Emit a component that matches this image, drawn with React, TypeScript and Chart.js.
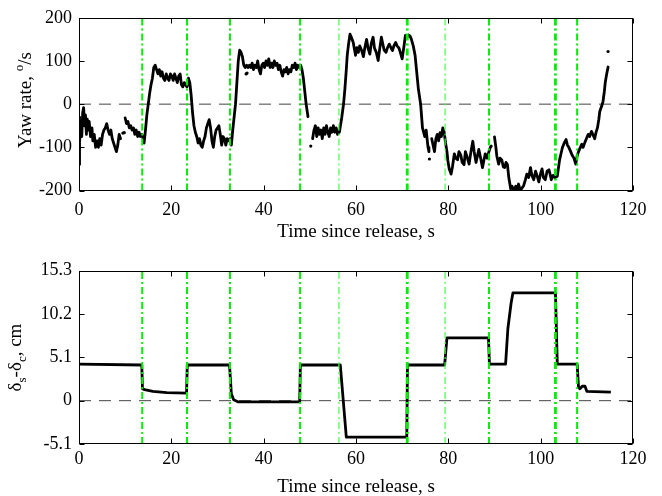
import React, { useEffect, useRef } from 'react';
import { Chart, registerables } from 'chart.js';
Chart.register(...registerables);

const FONT = '"Liberation Serif", "Times New Roman", Times, serif';

// ---------- data ----------
const xTicks = [0, 20, 40, 60, 80, 100, 120];
const yawTicks = [-200, -100, 0, 100, 200];
const deltaTicks = [-5.1, 0, 5.1, 10.2, 15.3];
const deltaTickLabels = ['-5.1', '0', '5.1', '10.2', '15.3'];

// event times (green dash-dot lines), s
const eventTimes = [13.7, 23.4, 32.7, 47.9, 56.3, 71.1, 79.3, 88.8, 103.2, 107.9];

// yaw rate trace (null = gap in record)
const yawTime = [
  0.0, 0.05, 0.1, 0.2, 0.4, 0.6, 0.8, 1.0, 1.2, 1.4,
  1.6, 1.8, 2.0, 2.2, 2.5, 2.8, 3.0, 3.3, 3.6, 3.9,
  4.2, 4.5, 4.8, 5.1, 5.4, 5.7, 6.0, 6.3, 6.6, 6.9,
  7.2, 7.5, 7.8, 8.1, 8.4, 8.7, 9.0, 9.4,
  10.0, 10.3, 10.6, 10.9, 11.2, 11.5, 11.8, 12.1, 12.4, 12.7,
  13.0, 13.3, 13.6, 13.9, 14.1, 14.4, 14.7, 15.0, 15.3, 15.6,
  15.9, 16.2, 16.5, 16.8, 17.1, 17.4, 17.7, 18.0, 18.3, 18.6,
  18.9, 19.2, 19.5, 19.8, 20.1, 20.4, 20.7, 21.0, 21.3, 21.6,
  21.9, 22.2, 22.5, 22.8, 23.1, 23.4, 23.7, 24.0, 24.3, 24.6,
  24.9, 25.2, 25.5, 25.8, 26.1, 26.4, 26.7, 27.0, 27.3, 27.6,
  27.9, 28.2, 28.5, 28.8, 29.1, 29.4, 29.7, 30.0, 30.3, 30.6,
  30.9, 31.2, 31.5, 31.8, 32.1, 32.4, 32.7, 33.0, 33.3, 33.6,
  33.9, 34.2, 34.5, 34.8, 35.1, 35.4, 35.7, 36.0, 36.3, 36.6,
  36.9, 37.2, 37.5, 37.8, 38.1, 38.4, 38.7, 39.0, 39.3, 39.6,
  39.9, 40.2, 40.5, 40.8, 41.1, 41.4, 41.7, 42.0, 42.3, 42.6,
  42.9, 43.2, 43.5, 43.8, 44.1, 44.4, 44.7, 45.0, 45.3, 45.6,
  45.9, 46.2, 46.5, 46.8, 47.1, 47.4, 47.7, 48.0, 48.3, 48.6,
  48.9, 49.2, 49.6, 50.0,
  50.6, 50.9, 51.2, 51.5, 51.8, 52.1, 52.4, 52.7, 53.0, 53.3,
  53.6, 53.9, 54.2, 54.5, 54.8, 55.1, 55.4, 55.7, 56.0, 56.4,
  56.9, 57.3, 57.6, 57.9, 58.1, 58.4, 58.7, 59.0, 59.4, 59.7,
  59.9, 60.2, 60.5, 60.8, 61.2, 61.6, 61.9, 62.3, 62.6, 63.0,
  63.3, 63.7, 64.0, 64.4, 64.8, 65.1, 65.5, 65.8, 66.1, 66.5,
  66.8, 67.2, 67.6, 67.9, 68.2, 68.6, 68.9, 69.3, 69.6, 70.0,
  70.4, 70.7, 71.0, 71.4, 71.7, 72.0, 72.4, 72.8, 73.1, 73.5,
  74.0, 74.4, 74.9, 75.2, 75.6, 75.8, 76.1,
  76.4, 76.7, 77.0, 77.3, 77.6, 77.9, 78.2, 78.5, 78.8, 79.1,
  79.4, 79.7, 79.9, 80.2, 80.6, 80.9, 81.3, 81.6, 82.0, 82.3,
  82.7, 83.0, 83.4, 83.7, 84.0, 84.5, 84.9, 85.3, 85.6, 86.0,
  86.3, 86.6, 87.0, 87.4, 87.7, 88.0, 88.4, 88.8, 89.1, 89.3,
  89.6,
  90.0, 90.3, 90.5, 90.9, 91.2, 91.6, 91.9, 92.2, 92.5, 92.8,
  93.1, 93.5, 93.8, 94.2, 94.6, 94.9, 95.2, 95.6, 95.9, 96.3,
  96.7, 97.0, 97.4, 97.8, 98.1, 98.5, 98.9, 99.2, 99.6, 100.0,
  100.3, 100.6, 101.0, 101.4, 101.8, 102.1, 102.3, 102.7, 103.1, 103.6,
  104.1, 104.4, 104.7, 105.1, 105.5, 105.8, 106.1, 106.5, 106.8, 107.2,
  107.6, 107.9, 108.2, 108.6, 108.9, 109.2, 109.6, 109.9, 110.3, 110.6,
  111.0, 111.3, 111.7, 112.0, 112.3, 112.6, 112.8, 113.2, 113.5, 113.8,
  114.0, 114.3, 114.6,
];
const yawRate = [
  -60, -140, -30, -90, -40, -75, -20, -8, -50, -25,
  -70, -35, -60, -40, -75, -55, -85, -70, -100, -85,
  -100, -80, -95, -70, -60, -55, -45, -60, -70, -60,
  -80, -90, -100, -110, -95, -70, -80, null,
  -32, -45, -40, -55, -50, -60, -55, -70, -60, -75,
  -65, -75, -70, -80, -90, -60, -25, 0, 25, 45,
  60, 85, 90, 80, 70, 80, 65, 75, 60, 55,
  70, 60, 55, 70, 65, 55, 70, 60, 50, 65,
  70, 45, 40, 50, 45, 40, 60, 50, 20, -20,
  -50, -65, -75, -90, -80, -95, -100, -85, -75, -55,
  -45, -36, -55, -85, -100, -75, -60, -55, -50, -70,
  -95, -75, -80, -95, -80, -85, -80, -95, -60, -30,
  0, 50, 100, 125, 120, 110, 90, 85, 90, 85,
  90, 85, 95, 80, 90, 85, 100, 80, 70, 90,
  95, 85, 100, 90, 105, 85, 95, 85, 100, 90,
  95, 80, 90, 75, 65, 80, 75, 85, 70, 80,
  75, 90, 85, 95, 80, 90, 85, 90, 80, 60,
  30, 0, -29, null,
  -80, -60, -50, -75, -55, -70, -60, -80, -55, -70,
  -50, -65, -75, -55, -65, -50, -65, -55, -70, -65,
  -32, 0, 36, 80, 113, 140, 162, 155, 143, 125,
  113, 131, 120, 135, 125, 110, 130, 150, 130, 116,
  140, 155, 130, 120, 101, 125, 155, 140, 125, 120,
  130, 139, 130, 124, 135, 143, 135, 130, 120, 105,
  135, 159, 155, 160, 158, 150, 135, 113, 80, 36,
  0, -55, -75, -60, -100, -110, null,
  -80, -95, -110, -80, -70, -85, -66, -75, -55, -65,
  -90, -110, -131, -150, -162, -145, -115, -125, -129, -110,
  -118, -135, -140, -110, -120, -139, -110, -86, -110, -135,
  -120, -105, -125, -147, -130, -115, -125, -110, -100, -97,
  null,
  -76, -100, -120, -139, -125, -130, -145, -147, -135, -140,
  -170, -196, -190, -200, -190, -198, -185, -200, -195, -189,
  -175, -162, -170, -147, -165, -175, -155, -165, -180, -160,
  -150, -170, -175, -155, -152, -165, -175, -165, -170, -167,
  -129, -115, -101, -90, -82, -95, -100, -110, -118, -125,
  -139, -120, -110, -100, -93, -100, -88, -80, -70, -75,
  -63, -70, -80, -65, -55, -35, -17, -5, 6, 30,
  51, 70, 86,
];

// isolated samples
const yawDotTime = [9.5, 9.8, 36.2, 36.4, 50.2, 75.9, 114.6];
const yawDotRate = [-67, -66, 70, 72, -97, -127, 122];

// delta_s - delta_c, cm
const deltaTime = [
  0, 13.6, 13.75, 14.2, 16, 19, 23.3, 23.45, 32.6, 32.8,
  33.0, 33.5, 34.5, 47.8, 47.95, 56.6, 57.9, 71.0, 71.15, 79.2,
  79.7, 88.7, 88.9, 92.4, 92.9, 93.6, 94.0, 103.2, 103.6, 107.9,
  108.2, 108.5, 109.0, 109.6, 110.0, 115.2,
];
const deltaValue = [
  4.3, 4.2, 1.4, 1.3, 1.1, 0.95, 0.9, 4.2, 4.2, 2.5,
  0.8, 0.1, -0.15, -0.15, 4.2, 4.2, -4.3, -4.3, 4.2, 4.2,
  7.4, 7.4, 4.3, 4.3, 8.5, 11.5, 12.7, 12.7, 4.3, 4.3,
  1.6, 1.4, 1.7, 1.7, 1.1, 1.0,
];

// ---------- styles ----------
const eventWidths = [2, 2, 2, 2, 1.2, 2.8, 1.2, 2, 2.8, 2];
const eventColors = ['#00ee00', '#00ee00', '#00ee00', '#00ee00', '#44ff44', '#00ee00', '#44ff44', '#00ee00', '#00ee00', '#00ee00'];

type Part = { text: string; size: number; shift: number };

function framePlugin(cfg: {
  xTitle: string;
  xTitleBaseline: number;
  yParts: Part[];
  yTitleX: number;
  yTitleCenter: number;
}) {
  return {
    id: 'frame',
    afterDraw(chart: any) {
      const { ctx, chartArea: a, scales } = chart;
      ctx.save();
      ctx.strokeStyle = '#000';
      ctx.lineWidth = 1;
      const L = 5;
      const l = Math.round(a.left) + 0.5;
      const r = Math.round(a.right) - 0.5;
      const t = Math.round(a.top) + 0.5;
      const b = Math.round(a.bottom) - 0.5;
      ctx.beginPath();
      for (const tk of scales.x.ticks) {
        const px = Math.round(scales.x.getPixelForValue(tk.value)) + 0.5;
        ctx.moveTo(px, b);
        ctx.lineTo(px, b - L);
        ctx.moveTo(px, t);
        ctx.lineTo(px, t + L);
      }
      for (const tk of scales.y.ticks) {
        const py = Math.round(scales.y.getPixelForValue(tk.value)) + 0.5;
        ctx.moveTo(l, py);
        ctx.lineTo(l + L, py);
        ctx.moveTo(r, py);
        ctx.lineTo(r - L, py);
      }
      ctx.stroke();
      ctx.strokeRect(l, t, r - l, b - t);

      // x title
      ctx.fillStyle = '#000';
      ctx.font = `19px ${FONT}`;
      ctx.textAlign = 'center';
      ctx.textBaseline = 'alphabetic';
      ctx.fillText(cfg.xTitle, (a.left + a.right) / 2, cfg.xTitleBaseline);

      // y title with super/subscripts
      ctx.translate(cfg.yTitleX, cfg.yTitleCenter);
      ctx.rotate(-Math.PI / 2);
      ctx.textAlign = 'left';
      let total = 0;
      const widths = cfg.yParts.map((p) => {
        ctx.font = `${p.size}px ${FONT}`;
        const w = ctx.measureText(p.text).width;
        total += w;
        return w;
      });
      let x = -total / 2;
      cfg.yParts.forEach((p, i) => {
        ctx.font = `${p.size}px ${FONT}`;
        ctx.fillText(p.text, x, p.shift);
        x += widths[i];
      });
      ctx.restore();
    },
  };
}

function eventDatasets(ymin: number, ymax: number) {
  return eventTimes.map((et, i) => ({
    data: [
      { x: et, y: ymin },
      { x: et, y: ymax },
    ],
    showLine: true,
    borderColor: eventColors[i],
    borderWidth: eventWidths[i],
    borderDash: [7, 3, 2, 3],
    pointRadius: 0,
    order: 1,
  }));
}

const noGrid = { display: false, drawTicks: false, tickLength: 0 };

function axisX(height: number, pad: number) {
  return {
    type: 'linear',
    min: 0,
    max: 120,
    afterBuildTicks: (s: any) => {
      s.ticks = xTicks.map((v) => ({ value: v }));
    },
    ticks: {
      font: { family: FONT, size: 18 },
      color: '#000',
      padding: pad,
      maxRotation: 0,
      autoSkip: false,
    },
    grid: noGrid,
    border: { display: false },
    afterFit: (s: any) => {
      s.height = height;
    },
  };
}

function makeTop(canvas: HTMLCanvasElement) {
  const yaw = yawTime.map((t, i) => ({ x: t, y: yawRate[i] }));
  const dots = yawDotTime.map((t, i) => ({ x: t, y: yawDotRate[i] }));
  return new Chart(canvas, {
    type: 'scatter',
    data: {
      datasets: [
        ...eventDatasets(-200, 200),
        {
          data: dots,
          showLine: false,
          pointRadius: 1.6,
          pointBackgroundColor: '#000',
          pointBorderWidth: 0,
          order: 2,
        },
        {
          data: yaw,
          showLine: true,
          spanGaps: false,
          borderColor: '#000',
          borderWidth: 2.8,
          borderJoinStyle: 'round',
          borderCapStyle: 'round',
          pointRadius: 0,
          order: 3,
        },
        {
          data: [
            { x: 0, y: 0 },
            { x: 120, y: 0 },
          ],
          showLine: true,
          borderColor: '#444',
          borderWidth: 1,
          borderDash: [12, 8],
          pointRadius: 0,
          order: 4,
        },
      ] as any,
    },
    options: {
      responsive: false,
      animation: false,
      devicePixelRatio: 1,
      layout: { padding: { top: 15, right: 29, left: 0, bottom: 0 } },
      plugins: { legend: { display: false }, tooltip: { enabled: false } },
      scales: {
        x: axisX(57.5, 9) as any,
        y: {
          type: 'linear',
          min: -200,
          max: 200,
          afterBuildTicks: (s: any) => {
            s.ticks = yawTicks.map((v) => ({ value: v }));
          },
          ticks: { font: { family: FONT, size: 18 }, color: '#000', padding: 7 },
          grid: noGrid,
          border: { display: false },
          afterFit: (s: any) => {
            s.width = 79;
          },
        },
      },
    },
    plugins: [
      framePlugin({
        xTitle: 'Time since release, s',
        xTitleBaseline: 236.7,
        yParts: [
          { text: 'Yaw rate, ', size: 19, shift: 0 },
          { text: 'o', size: 13, shift: -8 },
          { text: '/s', size: 19, shift: 0 },
        ],
        yTitleX: 31,
        yTitleCenter: 100,
      }),
    ],
  } as any);
}

function makeBottom(canvas: HTMLCanvasElement) {
  const d = deltaTime.map((t, i) => ({ x: t, y: deltaValue[i] }));
  return new Chart(canvas, {
    type: 'scatter',
    data: {
      datasets: [
        ...eventDatasets(-5.1, 15.3),
        {
          data: d,
          showLine: true,
          borderColor: '#000',
          borderWidth: 2.8,
          borderJoinStyle: 'round',
          pointRadius: 0,
          order: 3,
        },
        {
          data: [
            { x: 0, y: 0 },
            { x: 120, y: 0 },
          ],
          showLine: true,
          borderColor: '#444',
          borderWidth: 1,
          borderDash: [12, 8],
          pointRadius: 0,
          order: 4,
        },
      ] as any,
    },
    options: {
      responsive: false,
      animation: false,
      devicePixelRatio: 1,
      layout: { padding: { top: 22.7, right: 29, left: 0, bottom: 0 } },
      plugins: { legend: { display: false }, tooltip: { enabled: false } },
      scales: {
        x: axisX(52, 4) as any,
        y: {
          type: 'linear',
          min: -5.1,
          max: 15.3,
          afterBuildTicks: (s: any) => {
            s.ticks = deltaTicks.map((v) => ({ value: v }));
          },
          ticks: {
            font: { family: FONT, size: 18 },
            color: '#000',
            padding: 7,
            callback: (_v: any, i: number) => deltaTickLabels[i],
          },
          grid: noGrid,
          border: { display: false },
          afterFit: (s: any) => {
            s.width = 79;
          },
        },
      },
    },
    plugins: [
      framePlugin({
        xTitle: 'Time since release, s',
        xTitleBaseline: 243.5,
        yParts: [
          { text: 'δ', size: 19, shift: 0 },
          { text: 's', size: 13, shift: 5 },
          { text: '-δ', size: 19, shift: 0 },
          { text: 'c', size: 13, shift: 5 },
          { text: ', cm', size: 19, shift: 0 },
        ],
        yTitleX: 20.5,
        yTitleCenter: 109.5,
      }),
    ],
  } as any);
}

export default function App() {
  const topRef = useRef<HTMLCanvasElement>(null);
  const botRef = useRef<HTMLCanvasElement>(null);
  useEffect(() => {
    const c1 = makeTop(topRef.current!);
    const c2 = makeBottom(botRef.current!);
    return () => {
      c1.destroy();
      c2.destroy();
    };
  }, []);
  return (
    <div style={{ position: 'absolute', left: 0, top: 0, width: 662, height: 496, background: '#fff' }}>
      <canvas ref={topRef} width={662} height={248} style={{ position: 'absolute', left: 0, top: 0, display: 'block' }} />
      <canvas ref={botRef} width={662} height={248} style={{ position: 'absolute', left: 0, top: 248, display: 'block' }} />
    </div>
  );
}
